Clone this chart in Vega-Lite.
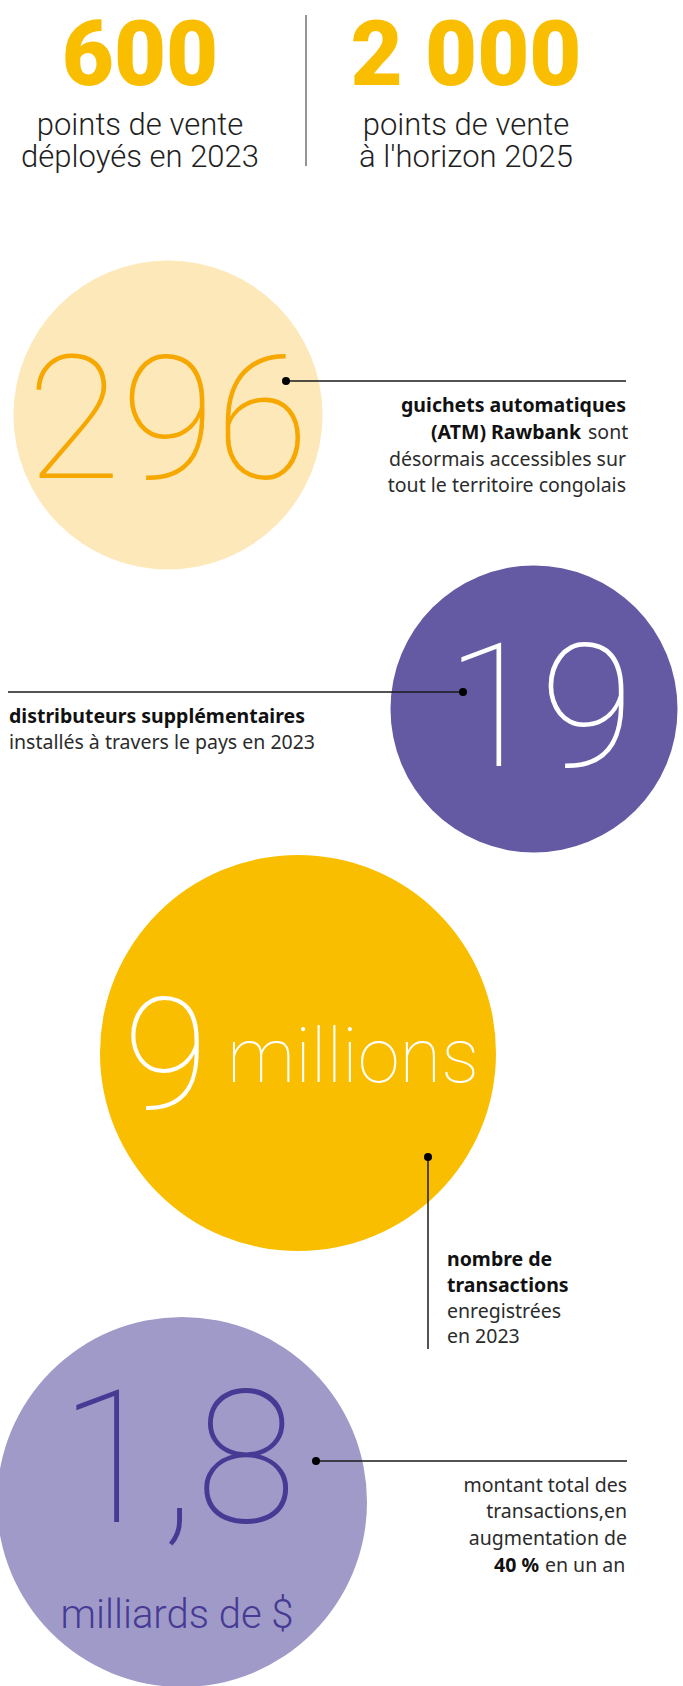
{
  "$schema": "https://vega.github.io/schema/vega-lite/v6.json",
  "width": 683,
  "height": 1686,
  "padding": 0,
  "autosize": {"type": "none"},
  "background": "#ffffff",
  "config": {"view": {"stroke": null}},
  "datasets": {
    "circles": [
      {"stat": "296 guichets", "x": 168, "y": 415},
      {"stat": "19 distributeurs", "x": 534, "y": 709},
      {"stat": "9 millions transactions", "x": 298, "y": 1053},
      {"stat": "1,8 milliards de $", "x": 182, "y": 1502}
    ],
    "lines": [
      {"kind": "divider", "x": 306, "y": 15, "x2": 306, "y2": 166},
      {"kind": "leader", "x": 286, "y": 381, "x2": 626, "y2": 381},
      {"kind": "leader", "x": 463, "y": 692, "x2": 8, "y2": 692},
      {"kind": "leader", "x": 428, "y": 1157, "x2": 428, "y2": 1349},
      {"kind": "leader", "x": 316, "y": 1461, "x2": 627, "y2": 1461}
    ],
    "labels": [
      {"role": "headline", "text": "600", "x": 140, "y": 85},
      {"role": "headline", "text": "2 000", "x": 466, "y": 85},
      {"role": "caption", "text": "points de vente", "x": 140, "y": 135},
      {"role": "caption", "text": "déployés en 2023", "x": 140, "y": 167},
      {"role": "caption", "text": "points de vente", "x": 466, "y": 135},
      {"role": "caption", "text": "à l'horizon 2025", "x": 466, "y": 167},
      {"role": "orange", "text": "296", "x": 168, "y": 478},
      {"role": "white", "text": "19", "x": 540, "y": 766},
      {"role": "white9", "text": "9", "x": 166, "y": 1108},
      {"role": "whiteword", "text": "millions", "x": 353, "y": 1082},
      {"role": "purple", "text": "1,8", "x": 178, "y": 1522},
      {"role": "purpleword", "text": "milliards de $", "x": 177, "y": 1628},
      {"role": "boldR", "text": "guichets automatiques", "x": 626, "y": 412},
      {"role": "boldR", "text": "(ATM) Rawbank", "x": 581, "y": 439},
      {"role": "regL", "text": "sont", "x": 588, "y": 439},
      {"role": "regR", "text": "désormais accessibles sur", "x": 626, "y": 466},
      {"role": "regR", "text": "tout le territoire congolais", "x": 626, "y": 492},
      {"role": "boldL", "text": "distributeurs supplémentaires", "x": 9, "y": 723},
      {"role": "regL", "text": "installés à travers le pays en 2023", "x": 9, "y": 749},
      {"role": "boldL", "text": "nombre de", "x": 447, "y": 1266},
      {"role": "boldL", "text": "transactions", "x": 447, "y": 1292},
      {"role": "regL", "text": "enregistrées", "x": 447, "y": 1318},
      {"role": "regL", "text": "en 2023", "x": 447, "y": 1343},
      {"role": "regR", "text": "montant total des", "x": 627, "y": 1492},
      {"role": "regR", "text": "transactions,en", "x": 627, "y": 1518},
      {"role": "regR", "text": "augmentation de", "x": 627, "y": 1545},
      {"role": "boldR", "text": "40 %", "x": 539, "y": 1572},
      {"role": "regL", "text": "en un an", "x": 545, "y": 1572}
    ]
  },
  "encoding": {
    "x": {"field": "x", "type": "quantitative", "scale": {"domain": [0, 683], "nice": false, "zero": false}, "axis": null},
    "y": {"field": "y", "type": "quantitative", "scale": {"domain": [0, 1686], "nice": false, "zero": false, "reverse": true}, "axis": null}
  },
  "layer": [
    {
      "data": {"name": "circles"},
      "transform": [{"filter": "datum.stat === '296 guichets'"}],
      "mark": {"type": "point", "shape": "circle", "filled": true, "opacity": 1, "strokeWidth": 0, "color": "#FDE8B9", "size": 95481}
    },
    {
      "data": {"name": "circles"},
      "transform": [{"filter": "datum.stat === '19 distributeurs'"}],
      "mark": {"type": "point", "shape": "circle", "filled": true, "opacity": 1, "strokeWidth": 0, "color": "#6459A3", "size": 82369}
    },
    {
      "data": {"name": "circles"},
      "transform": [{"filter": "datum.stat === '9 millions transactions'"}],
      "mark": {"type": "point", "shape": "circle", "filled": true, "opacity": 1, "strokeWidth": 0, "color": "#F9BE00", "size": 156816}
    },
    {
      "data": {"name": "circles"},
      "transform": [{"filter": "datum.stat === '1,8 milliards de $'"}],
      "mark": {"type": "point", "shape": "circle", "filled": true, "opacity": 1, "strokeWidth": 0, "color": "#A09AC9", "size": 136900}
    },
    {
      "data": {"name": "lines"},
      "transform": [{"filter": "datum.kind === 'divider'"}],
      "mark": {"type": "rule", "color": "#7a7a7a", "strokeWidth": 1.6},
      "encoding": {"x2": {"field": "x2"}, "y2": {"field": "y2"}}
    },
    {
      "data": {"name": "lines"},
      "transform": [{"filter": "datum.kind === 'leader'"}],
      "mark": {"type": "rule", "color": "#1a1a1a", "strokeWidth": 1.5},
      "encoding": {"x2": {"field": "x2"}, "y2": {"field": "y2"}}
    },
    {
      "data": {"name": "lines"},
      "transform": [{"filter": "datum.kind === 'leader'"}],
      "mark": {"type": "point", "shape": "circle", "filled": true, "color": "#000000", "opacity": 1, "size": 64}
    },
    {
      "data": {"name": "labels"},
      "transform": [{"filter": "datum.role === 'headline'"}],
      "mark": {"type": "text", "align": "center", "baseline": "alphabetic", "color": "#F9BE00", "fontSize": 90, "fontWeight": 900, "font": "Roboto, sans-serif"},
      "encoding": {"text": {"field": "text"}}
    },
    {
      "data": {"name": "labels"},
      "transform": [{"filter": "datum.role === 'caption'"}],
      "mark": {"type": "text", "align": "center", "baseline": "alphabetic", "color": "#1f1f1f", "fontSize": 31, "fontWeight": 300, "font": "Roboto, sans-serif"},
      "encoding": {"text": {"field": "text"}}
    },
    {
      "data": {"name": "labels"},
      "transform": [{"filter": "datum.role === 'orange'"}],
      "mark": {"type": "text", "align": "center", "baseline": "alphabetic", "color": "#F6A800", "fontSize": 172, "fontWeight": 100, "font": "Roboto, sans-serif"},
      "encoding": {"text": {"field": "text"}}
    },
    {
      "data": {"name": "labels"},
      "transform": [{"filter": "datum.role === 'white'"}],
      "mark": {"type": "text", "align": "center", "baseline": "alphabetic", "color": "#ffffff", "fontSize": 172, "fontWeight": 100, "font": "Roboto, sans-serif"},
      "encoding": {"text": {"field": "text"}}
    },
    {
      "data": {"name": "labels"},
      "transform": [{"filter": "datum.role === 'white9'"}],
      "mark": {"type": "text", "align": "center", "baseline": "alphabetic", "color": "#ffffff", "fontSize": 155, "fontWeight": 100, "font": "Roboto, sans-serif"},
      "encoding": {"text": {"field": "text"}}
    },
    {
      "data": {"name": "labels"},
      "transform": [{"filter": "datum.role === 'whiteword'"}],
      "mark": {"type": "text", "align": "center", "baseline": "alphabetic", "color": "#ffffff", "fontSize": 76, "fontWeight": 100, "font": "Roboto, sans-serif"},
      "encoding": {"text": {"field": "text"}}
    },
    {
      "data": {"name": "labels"},
      "transform": [{"filter": "datum.role === 'purple'"}],
      "mark": {"type": "text", "align": "center", "baseline": "alphabetic", "color": "#463A94", "fontSize": 185, "fontWeight": 100, "font": "Roboto, sans-serif"},
      "encoding": {"text": {"field": "text"}}
    },
    {
      "data": {"name": "labels"},
      "transform": [{"filter": "datum.role === 'purpleword'"}],
      "mark": {"type": "text", "align": "center", "baseline": "alphabetic", "color": "#463A94", "fontSize": 40, "fontWeight": 300, "font": "Roboto, sans-serif"},
      "encoding": {"text": {"field": "text"}}
    },
    {
      "data": {"name": "labels"},
      "transform": [{"filter": "datum.role === 'boldR'"}],
      "mark": {"type": "text", "align": "right", "baseline": "alphabetic", "color": "#111111", "fontSize": 19.5, "fontWeight": "bold", "font": "'Noto Sans', sans-serif"},
      "encoding": {"text": {"field": "text"}}
    },
    {
      "data": {"name": "labels"},
      "transform": [{"filter": "datum.role === 'boldL'"}],
      "mark": {"type": "text", "align": "left", "baseline": "alphabetic", "color": "#111111", "fontSize": 19.5, "fontWeight": "bold", "font": "'Noto Sans', sans-serif"},
      "encoding": {"text": {"field": "text"}}
    },
    {
      "data": {"name": "labels"},
      "transform": [{"filter": "datum.role === 'regR'"}],
      "mark": {"type": "text", "align": "right", "baseline": "alphabetic", "color": "#2b2b2b", "fontSize": 19.5, "fontWeight": "normal", "font": "'Noto Sans', sans-serif"},
      "encoding": {"text": {"field": "text"}}
    },
    {
      "data": {"name": "labels"},
      "transform": [{"filter": "datum.role === 'regL'"}],
      "mark": {"type": "text", "align": "left", "baseline": "alphabetic", "color": "#2b2b2b", "fontSize": 19.5, "fontWeight": "normal", "font": "'Noto Sans', sans-serif"},
      "encoding": {"text": {"field": "text"}}
    }
  ]
}
